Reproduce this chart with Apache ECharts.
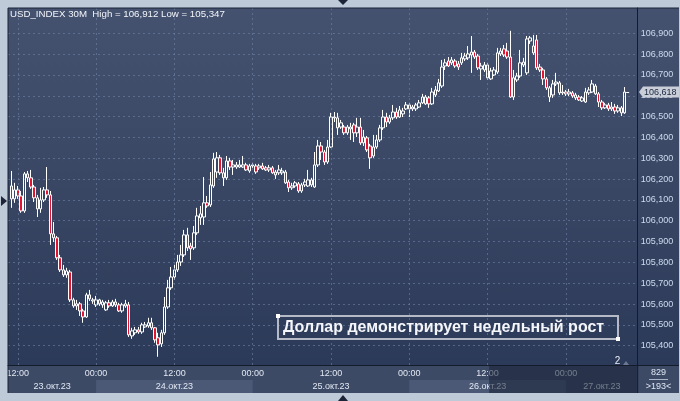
<!DOCTYPE html>
<html><head><meta charset="utf-8">
<script src="https://cdn.jsdelivr.net/npm/echarts@6/dist/echarts.min.js"></script>
<style>
html,body{margin:0;padding:0;background:#bfcad9;width:680px;height:401px;overflow:hidden;}
#panel{position:absolute;left:8px;top:8px;width:671px;height:358px;background:linear-gradient(#45526f,#2c3a59);}
#axisbar{position:absolute;left:8px;top:366px;width:671px;height:27px;background:#3c4a66;}
#c{position:absolute;left:0;top:0;width:680px;height:401px;}
</style>
</head><body><div id="panel"></div><div id="axisbar"></div><div id="c"></div>
<script>
const SYMBOL = 'USD_INDEX';
const TIMEFRAME = '30M';
const SLOT0_TIME = Date.UTC(2023, 9, 23, 10, 30);
const SLOT_MINUTES = 30;
const SLOT_COUNT = 194;
const FIRST_SLOT = 1;
const dayLabels = ['23.окт.23', '24.окт.23', '25.окт.23', '26.окт.23', '27.окт.23'];
const yLabelMin = 105.4, yLabelMax = 106.9, yStep = 0.1;
const barCountLabel = '829';
const visibleLabel = '>193<';
const annotationText = 'Доллар демонстрирует недельный рост';
const markerLabel = '2';
const OVERLAY_START_SLOT = 147;

const opens = [
106.167,106.105,106.148,106.119,106.047,106.225,106.206,106.162,106.110,106.057,
106.100,106.148,106.124,105.937,105.918,105.822,105.764,105.740,105.754,105.620,
105.591,105.601,105.567,105.538,105.644,105.615,105.596,105.620,105.596,105.572,
105.606,105.591,105.610,105.596,105.567,105.591,105.596,105.447,105.462,105.476,
105.466,105.490,105.495,105.510,105.486,105.438,105.409,105.462,105.586,105.678,
105.730,105.764,105.802,105.836,105.932,105.879,105.870,105.942,106.014,106.018,
106.086,106.076,106.167,106.234,106.302,106.230,106.206,106.287,106.258,106.258,
106.268,106.258,106.268,106.239,106.263,106.263,106.254,106.263,106.254,106.244,
106.254,106.234,106.230,106.230,106.234,106.186,106.158,106.167,106.177,106.143,
106.172,106.167,106.196,106.162,106.268,106.359,106.330,106.282,106.354,106.494,
106.494,106.450,106.450,106.422,106.441,106.460,106.422,106.450,106.374,106.398,
106.359,106.311,106.354,106.388,106.446,106.498,106.474,106.494,106.522,106.498,
106.513,106.537,106.556,106.537,106.537,106.546,106.566,106.594,106.590,106.561,
106.604,106.623,106.647,106.743,106.767,106.758,106.767,106.753,106.758,106.777,
106.782,106.796,106.810,106.791,106.729,106.724,106.748,106.681,106.700,106.714,
106.801,106.825,106.815,106.786,106.594,106.676,106.695,106.748,106.710,106.863,
106.839,106.868,106.738,106.724,106.681,106.638,106.604,106.657,106.662,106.614,
106.618,106.609,106.614,106.604,106.594,106.575,106.570,106.614,106.618,106.647,
106.609,106.570,106.542,106.556,106.537,106.546,106.527,106.542,106.518];
const closes = [
106.105,106.148,106.119,106.047,106.225,106.206,106.162,106.110,106.057,106.100,
106.148,106.124,105.937,105.918,105.822,105.764,105.740,105.759,105.620,105.591,
105.601,105.567,105.538,105.644,105.625,105.620,105.620,105.601,105.610,105.606,
105.591,105.610,105.596,105.567,105.596,105.601,105.452,105.471,105.476,105.466,
105.500,105.500,105.510,105.486,105.428,105.404,105.462,105.586,105.678,105.730,
105.764,105.802,105.836,105.932,105.870,105.865,105.942,106.023,106.033,106.086,
106.071,106.172,106.297,106.302,106.230,106.206,106.287,106.258,106.268,106.268,
106.258,106.268,106.244,106.263,106.268,106.234,106.263,106.249,106.244,106.254,
106.230,106.220,106.244,106.239,106.182,106.158,106.167,106.182,106.143,106.172,
106.186,106.196,106.172,106.268,106.359,106.330,106.282,106.354,106.498,106.498,
106.446,106.470,106.422,106.450,106.450,106.422,106.450,106.374,106.402,106.340,
106.302,106.354,106.388,106.446,106.498,106.474,106.494,106.522,106.498,106.532,
106.527,106.556,106.537,106.546,106.556,106.566,106.594,106.561,106.561,106.618,
106.628,106.662,106.738,106.758,106.743,106.772,106.743,106.738,106.782,106.791,
106.801,106.810,106.786,106.734,106.743,106.748,106.686,106.719,106.724,106.806,
106.815,106.796,106.786,106.594,106.686,106.695,106.758,106.762,106.873,106.878,
106.806,106.734,106.724,106.681,106.638,106.594,106.657,106.666,106.614,106.618,
106.609,106.618,106.599,106.590,106.580,106.590,106.618,106.628,106.657,106.609,
106.570,106.542,106.556,106.537,106.546,106.527,106.542,106.518,106.618];
const lows = [
106.062,106.086,106.105,106.038,106.038,106.186,106.153,106.090,106.018,106.038,
106.090,106.110,105.884,105.898,105.812,105.754,105.730,105.726,105.610,105.582,
105.572,105.543,105.510,105.534,105.615,105.601,105.586,105.591,105.582,105.567,
105.582,105.586,105.586,105.562,105.558,105.582,105.442,105.433,105.452,105.457,
105.457,105.486,105.486,105.476,105.414,105.347,105.394,105.452,105.577,105.668,
105.716,105.754,105.783,105.826,105.855,105.812,105.860,105.932,105.980,105.980,
106.062,106.066,106.158,106.206,106.220,106.167,106.196,106.244,106.220,106.249,
106.254,106.254,106.239,106.230,106.254,106.225,106.244,106.244,106.239,106.234,
106.225,106.201,106.220,106.220,106.177,106.138,106.148,106.158,106.134,106.134,
106.162,106.162,106.162,106.158,106.258,106.292,106.268,106.273,106.350,106.474,
106.412,106.441,106.412,106.412,106.388,106.378,106.402,106.364,106.359,106.330,
106.249,106.302,106.345,106.378,106.436,106.450,106.465,106.484,106.489,106.494,
106.498,106.532,106.498,106.527,106.527,106.542,106.561,106.556,106.542,106.556,
106.594,106.618,106.638,106.724,106.738,106.748,106.734,106.724,106.748,106.767,
106.772,106.710,106.777,106.724,106.676,106.714,106.676,106.676,106.695,106.705,
106.791,106.786,106.777,106.590,106.580,106.666,106.686,106.738,106.700,106.849,
106.796,106.724,106.714,106.652,106.628,106.570,106.590,106.647,106.604,106.604,
106.599,106.599,106.590,106.580,106.575,106.570,106.566,106.604,106.614,106.604,
106.546,106.532,106.537,106.527,106.527,106.513,106.518,106.503,106.513];
const highs = [
106.239,106.182,106.167,106.143,106.234,106.239,106.244,106.172,106.124,106.158,
106.162,106.258,106.143,105.994,105.927,105.836,105.788,105.774,105.764,105.630,
105.620,105.610,105.577,105.654,105.668,105.630,105.639,105.625,105.620,105.615,
105.620,105.620,105.625,105.606,105.606,105.620,105.610,105.486,105.490,105.490,
105.510,105.514,105.534,105.534,105.490,105.462,105.476,105.634,105.716,105.778,
105.788,105.836,105.884,105.956,105.966,105.894,105.975,106.062,106.071,106.210,
106.119,106.234,106.326,106.330,106.316,106.254,106.311,106.302,106.292,106.282,
106.292,106.311,106.278,106.273,106.278,106.273,106.273,106.278,106.263,106.268,
106.263,106.244,106.268,106.254,106.244,106.196,106.182,106.191,106.186,106.182,
106.201,106.244,106.206,106.330,106.388,106.378,106.340,106.388,106.518,106.522,
106.518,106.484,106.460,106.460,106.470,106.470,106.494,106.494,106.436,106.407,
106.369,106.412,106.412,106.460,106.532,106.518,106.508,106.556,106.542,106.551,
106.542,106.570,106.566,106.556,106.566,106.580,106.609,106.604,106.599,106.638,
106.647,106.681,106.772,106.777,106.786,106.786,106.777,106.767,106.806,106.806,
106.839,106.887,106.820,106.801,106.758,106.762,106.758,106.734,106.738,106.830,
106.830,106.844,106.854,106.912,106.724,106.710,106.820,106.782,106.887,106.887,
106.892,106.892,106.753,106.734,106.690,106.647,106.676,106.710,106.671,106.652,
106.628,106.633,106.623,106.614,106.604,106.599,106.638,106.642,106.676,106.657,
106.618,106.580,106.566,106.566,106.570,106.561,106.556,106.551,106.642];

const pad = n => (n < 10 ? '0' : '') + n;
const categories = [];
for (let k = 0; k < SLOT_COUNT; k++) {
  const d = new Date(SLOT0_TIME + k * SLOT_MINUTES * 60000);
  categories.push(pad(d.getUTCDate()) + '.' + pad(d.getUTCMonth() + 1) + ' ' + pad(d.getUTCHours()) + ':' + pad(d.getUTCMinutes()));
}
const dayStartSlots = [];
categories.forEach((c, i) => { if (/ 00:00$/.test(c)) dayStartSlots.push(i); });
const isMajor = (idx) => /(00|12):00$/.test(categories[idx]);

const candles = opens.map((o, i) => [FIRST_SLOT + i, o, closes[i], lows[i], highs[i]]);
const fmt = v => v.toFixed(3).replace('.', ',');
const hi = Math.max(...highs), lo = Math.min(...lows);

const PLOT_L = 8, PLOT_R = 637.7, PLOT_T = 8, PLOT_B = 365.5;
const Y_LAB_T = 33.3, Y_LAB_B = 345.7;
const pxPerUnit = (Y_LAB_B - Y_LAB_T) / (yLabelMax - yLabelMin);
const yMax0 = yLabelMax + (Y_LAB_T - PLOT_T) / pxPerUnit;
const yMin0 = yLabelMin - (PLOT_B - Y_LAB_B) / pxPerUnit;

const FONT = '"Liberation Sans", Arial, sans-serif';
const gridCol = 'rgba(112,130,165,0.6)';

const chart = echarts.init(document.getElementById('c'), null, {renderer: 'canvas'});
const option = {
  animation: false,
  backgroundColor: 'transparent',
  textStyle: {fontFamily: FONT},
  grid: [
    {left: PLOT_L, right: 680 - PLOT_R, top: PLOT_T, bottom: 401 - PLOT_B, outerBoundsMode: 'none', containLabel: false},
    {left: PLOT_L, right: 680 - PLOT_R, top: Y_LAB_T, bottom: 401 - Y_LAB_B, outerBoundsMode: 'none', containLabel: false}
  ],
  xAxis: [
    {type: 'category', gridIndex: 0, data: categories, boundaryGap: false, z: 5,
     axisLine: {show: true, lineStyle: {color: '#141b2b', width: 1}},
     axisTick: {show: false},
     axisLabel: {interval: (i) => isMajor(i), formatter: v => v.slice(-5), color: '#e2e8f2', fontSize: 9, fontFamily: FONT, margin: 4},
     splitLine: {show: true, interval: (i) => isMajor(i), lineStyle: {color: gridCol, type: [2, 3], width: 1}}},
    {type: 'value', gridIndex: 1, show: false}
  ],
  yAxis: [
    {type: 'value', gridIndex: 0, position: 'right', min: yMin0, max: yMax0,
     axisLine: {show: true, lineStyle: {color: '#141b2b', width: 1}},
     axisLabel: {show: false}, axisTick: {show: false}, splitLine: {show: false}},
    {type: 'value', gridIndex: 1, position: 'right', min: yLabelMin, max: yLabelMax, interval: yStep,
     axisLine: {show: false}, axisTick: {show: false},
     axisLabel: {formatter: fmt, color: '#cddcf0', fontSize: 9, fontFamily: FONT, margin: 3},
     splitLine: {show: true, lineStyle: {color: gridCol, type: [2, 3], width: 1}}}
  ],
  series: [{
    type: 'candlestick', xAxisIndex: 0, yAxisIndex: 0,
    data: candles, encode: {x: 0, y: [1, 2, 3, 4]},
    barWidth: 3,
    itemStyle: {color: 'rgba(0,0,0,0)', color0: '#e2142f', borderColor: '#ffffff', borderColor0: '#ffffff', borderWidth: 1},
    emphasis: {disabled: true}
  }]
};
chart.setOption(option);

const px = k => chart.convertToPixel({xAxisIndex: 0}, k);
const py = v => chart.convertToPixel({yAxisIndex: 0}, v);
const T = (x, y, text, o, z) => ({type: 'text', x: x, y: y, z: z || 20,
  style: Object.assign({text: text, fill: '#e2e8f2', font: '9px ' + FONT, align: 'center', verticalAlign: 'middle', textAlign: 'center', textVerticalAlign: 'middle'}, o || {})});

const g = [];
const bounds = [PLOT_L].concat(dayStartSlots.map(px)).concat([PLOT_R]);
for (let i = 0; i < dayLabels.length; i++) {
  const a = bounds[i], b = bounds[i + 1];
  if (i % 2 === 1) g.push({type: 'rect', z: -1, shape: {x: a, y: 380, width: b - a, height: 13}, style: {fill: '#4b5977'}});
  g.push(T((a + b) / 2, 386.5, dayLabels[i]));
}
const ox = px(OVERLAY_START_SLOT) + 1.5;
g.push({type: 'rect', z: 50, shape: {x: ox, y: 366, width: PLOT_R - ox, height: 27}, style: {fill: 'rgba(24,32,52,0.55)'}});
g.push({type: 'line', z: 30, shape: {x1: PLOT_R, y1: PLOT_B, x2: PLOT_R, y2: 393}, style: {stroke: '#141b2b', lineWidth: 1}});
g.push({type: 'line', z: 30, shape: {x1: PLOT_R, y1: PLOT_B, x2: 679, y2: PLOT_B}, style: {stroke: '#141b2b', lineWidth: 1}});
g.push({type: 'line', z: 30, shape: {x1: 8, y1: 8, x2: 679, y2: 8}, style: {stroke: '#1b2336', lineWidth: 1}});
g.push({type: 'line', z: 30, shape: {x1: 8, y1: 8, x2: 8, y2: 393}, style: {stroke: '#1b2336', lineWidth: 1}});
g.push(T(658.5, 373, barCountLabel, {fill: '#dfe6f2'}));
g.push({type: 'line', z: 20, shape: {x1: 649, y1: 379.5, x2: 668, y2: 379.5}, style: {stroke: '#aab6c8', lineWidth: 1}});
g.push(T(658.5, 386.5, visibleLabel, {fill: '#dfe6f2'}));
g.push(T(10, 14.5, SYMBOL + ' ' + TIMEFRAME + '  High = ' + fmt(hi) + ' Low = ' + fmt(lo), {fill: '#f2f5fa', align: 'left', textAlign: 'left', font: '9.7px ' + FONT}));
const lp = closes[closes.length - 1];
const ly = py(lp);
const lx = px(FIRST_SLOT + closes.length - 1);
g.push({type: 'line', z: 25, shape: {x1: lx + 1.5, y1: Math.round(ly) + 0.5, x2: lx + 4.5, y2: Math.round(ly) + 0.5}, style: {stroke: '#ffffff', lineWidth: 1}});
g.push({type: 'polygon', z: 25, shape: {points: [[639, ly], [643, ly - 5.5], [679, ly - 5.5], [679, ly + 5.5], [643, ly + 5.5]]}, style: {fill: '#c9ced8'}});
g.push(T(644, ly + 0.5, fmt(lp), {fill: '#1a2740', align: 'left', textAlign: 'left'}, 27));
g.push({type: 'polygon', z: 25, shape: {points: [[1, 196], [7, 201], [1, 206]]}, style: {fill: '#1c2538'}});
g.push({type: 'polygon', z: 25, shape: {points: [[338, 0], [348, 0], [343, 5]]}, style: {fill: '#1c2538'}});
g.push({type: 'polygon', z: 25, shape: {points: [[338, 401], [348, 401], [343, 395]]}, style: {fill: '#1c2538'}});
g.push(T(617.5, 361, markerLabel, {fill: '#e8edf5', font: '10px ' + FONT}));
g.push({type: 'polygon', z: 25, shape: {points: [[623, 365], [629, 365], [626, 361]]}, style: {fill: '#6c7894'}});
g.push({type: 'rect', z: 40, shape: {x: 278, y: 316, width: 340, height: 23}, style: {fill: 'rgba(0,0,0,0)', stroke: '#b6bac6', lineWidth: 2}});
g.push({type: 'rect', z: 41, shape: {x: 276, y: 314, width: 4, height: 4}, style: {fill: '#ffffff'}});
g.push({type: 'rect', z: 41, shape: {x: 616, y: 337, width: 4, height: 4}, style: {fill: '#ffffff'}});
g.push(T(283, 328, annotationText, {fill: '#f4f6fa', font: 'bold 16px ' + FONT, align: 'left', textAlign: 'left'}, 42));

chart.setOption({graphic: {elements: g}});
</script>
</body></html>
